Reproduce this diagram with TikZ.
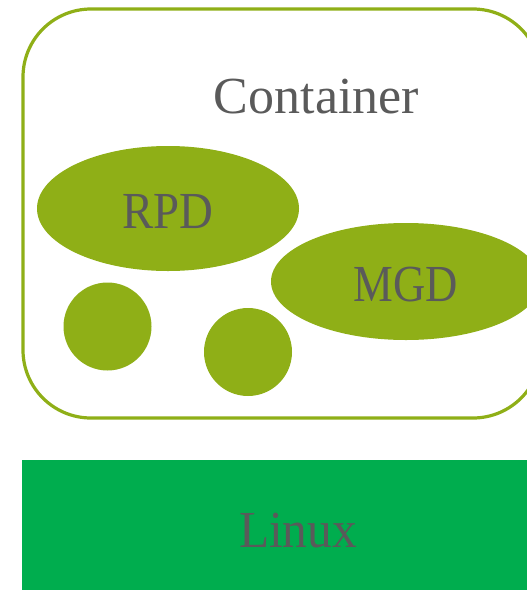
\documentclass[tikz,border=0pt]{standalone}
\usepackage{fontspec}
\setmainfont{Liberation Serif}
\usetikzlibrary{shapes.geometric}
\definecolor{olive}{HTML}{8FAF17}
\definecolor{oslayer}{HTML}{00AD4E}
\definecolor{labelgray}{HTML}{5A5A5A}
\tikzset{
  blob/.style={fill=olive, draw=none},
  lbl/.style={text=labelgray, font=\fontsize{52}{52}\selectfont, inner sep=0pt, anchor=base},
}
\begin{document}
\begin{tikzpicture}[x=1pt, y=-1pt]
  \useasboundingbox (0,0) rectangle (527,590);
  \clip (0,0) rectangle (527,590);
  % container outline
  \draw[olive, line width=3.2pt, rounded corners=68pt] (23,9) rectangle (541,418);
  \node[lbl] (container) at (316.5,113) {Container};
  % processes inside the container
  \fill[blob] (168,208.5) ellipse [x radius=131, y radius=62.5];
  \node[lbl] (rpd) at (168,228) {\scalebox{0.9}[1]{RPD}};
  \fill[blob] (406,281.5) ellipse [x radius=135, y radius=58.5];
  \node[lbl] (mgd) at (406,301) {\scalebox{0.86}[1]{MGD}};
  \fill[blob] (107.5,326.5) circle [radius=44];
  \fill[blob] (248,352) circle [radius=44];
  % host OS layer
  \fill[oslayer] (22,460) rectangle (527,590);
  \node[lbl] (linux) at (298,547) {\scalebox{0.95}[1]{Linux}};
\end{tikzpicture}
\end{document}
